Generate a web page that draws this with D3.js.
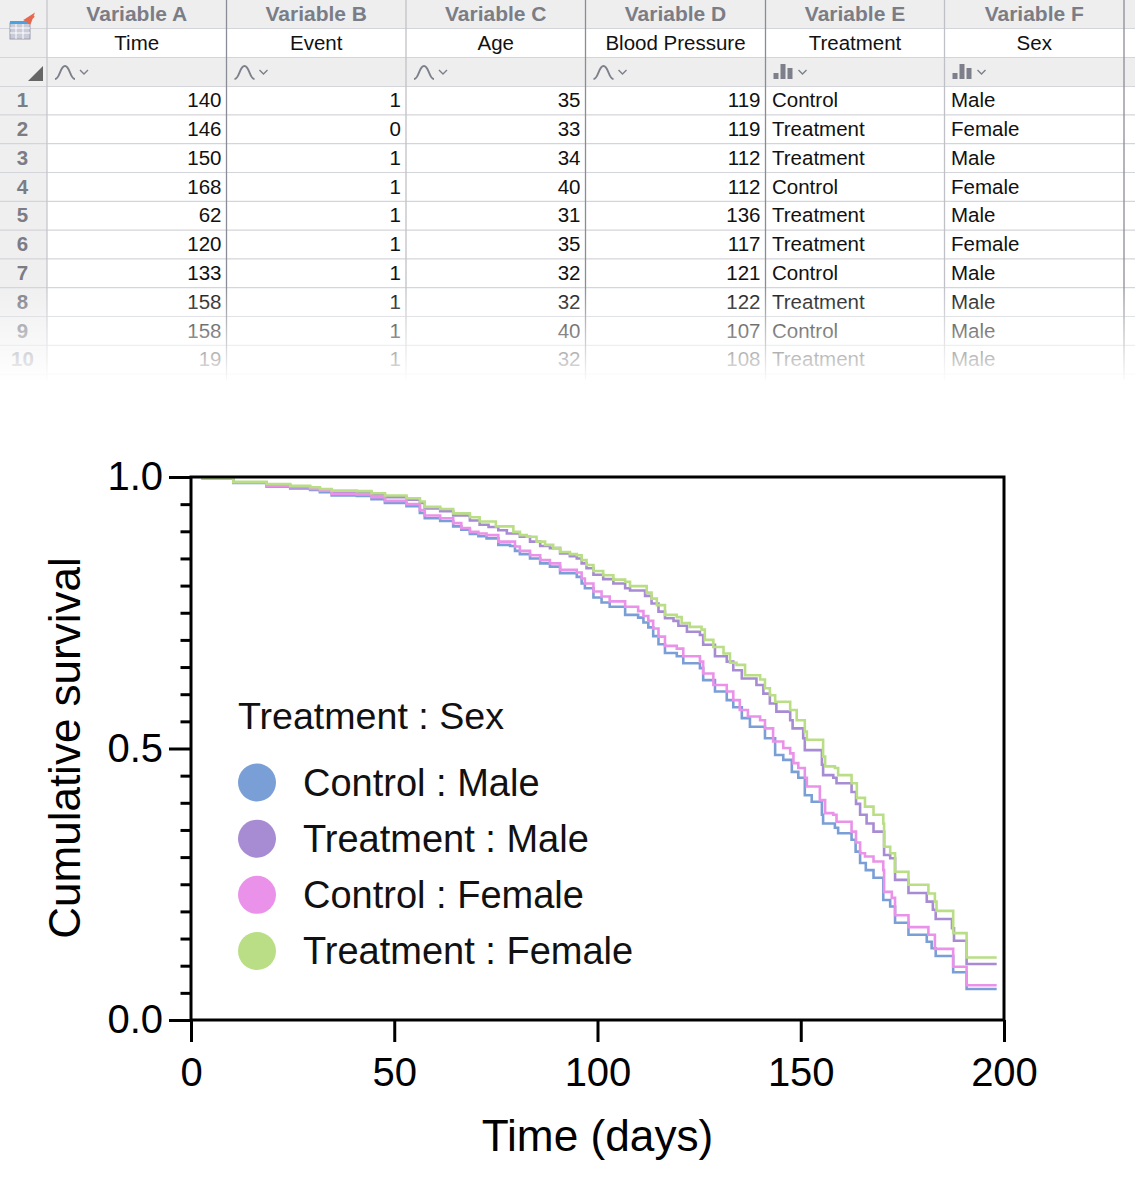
<!DOCTYPE html>
<html>
<head>
<meta charset="utf-8">
<style>
  html, body { margin: 0; padding: 0; background: #fff; }
  svg { display: block; }
  text { font-family: "Liberation Sans", Arial, sans-serif; }
</style>
<script src="https://cdn.jsdelivr.net/npm/d3@7"></script>
</head>
<body>
<div id="chart"></div>
<script>
// --- data table ---
const tableColumns = ["Variable A", "Variable B", "Variable C", "Variable D", "Variable E", "Variable F"];
const tableNames = ["Time", "Event", "Age", "Blood Pressure", "Treatment", "Sex"];
const tableTypes = ["num", "num", "num", "num", "cat", "cat"];
const timeCol = [140, 146, 150, 168, 62, 120, 133, 158, 158, 19];
const eventCol = [1, 0, 1, 1, 1, 1, 1, 1, 1, 1];
const ageCol = [35, 33, 34, 40, 31, 35, 32, 32, 40, 32];
const bpCol = [119, 119, 112, 112, 136, 117, 121, 122, 107, 108];
const treatmentCol = ["Control", "Treatment", "Treatment", "Control", "Treatment", "Treatment", "Control", "Treatment", "Control", "Treatment"];
const sexCol = ["Male", "Female", "Male", "Female", "Male", "Female", "Male", "Male", "Male", "Male"];

// --- survival curves, [day, survival] ---
const controlMale = [[2.6,.997],[10.4,.989],[18.6,.982],[24.4,.979],[29.3,.976],[31.7,.972],[34.6,.966],[40.8,.965],[44.4,.959],[47.7,.952],[53,.946],[56.3,.934],[57.5,.924],[61.3,.919],[64.5,.909],[66.5,.903],[68.6,.895],[70.7,.891],[72.7,.887],[75.6,.875],[78.5,.873],[79.7,.864],[80.9,.858],[83.4,.850],[85.9,.841],[88.3,.835],[90.8,.823],[94.9,.816],[96.1,.804],[96.9,.795],[99,.778],[101,.769],[103,.761],[106.8,.746],[110,.741],[111.3,.732],[112.5,.723],[113.7,.707],[115,.692],[116.6,.676],[119.5,.670],[121.1,.657],[125.2,.648],[126,.626],[128.9,.605],[131.8,.589],[133.4,.576],[135.5,.556],[137.5,.540],[141.2,.519],[143.7,.488],[145.7,.479],[147.8,.457],[149.4,.446],[151,.414],[152.7,.402],[155.2,.378],[155.5,.362],[158.4,.354],[159.2,.344],[162.5,.332],[163.5,.31],[164.6,.289],[166,.276],[167.9,.262],[170.3,.221],[172,.209],[173.2,.179],[176.5,.157],[181,.144],[182.2,.132],[183.2,.118],[187.5,.088],[190.8,.057],[198.2,.057]];
const treatmentMale = [[2.6,.998],[10.4,.990],[18.6,.985],[24.4,.982],[29.3,.979],[31.7,.976],[34.6,.973],[40.8,.972],[44.4,.968],[47.7,.963],[53,.958],[56.3,.952],[57.5,.942],[61.3,.937],[64.5,.929],[68.6,.920],[71,.912],[73.2,.908],[75.6,.902],[77.7,.896],[80.9,.890],[83.4,.881],[85.9,.873],[88.3,.869],[90.8,.859],[93.2,.854],[94.9,.850],[96.1,.841],[97.3,.832],[99,.820],[101.4,.812],[103.9,.804],[106.8,.795],[108,.791],[111.7,.781],[113.3,.767],[115,.752],[116.6,.740],[118.7,.735],[119.9,.726],[122,.715],[125.2,.709],[126,.691],[128.9,.670],[131.8,.660],[133.4,.644],[135.5,.629],[139.1,.617],[140.8,.601],[142.4,.583],[144,.568],[147.4,.552],[148,.537],[150.6,.519],[151,.497],[155.2,.470],[155.5,.451],[158,.446],[158.8,.436],[162.5,.420],[163.6,.398],[164.6,.378],[166.2,.362],[167.9,.347],[170.5,.304],[172,.298],[173.2,.258],[176.5,.234],[181,.218],[182.5,.203],[183.2,.186],[187.2,.169],[187.7,.146],[190.8,.103],[198.2,.103]];
const controlFemale = [[2.6,.998],[10.4,.990],[18.6,.983],[24.4,.981],[29.3,.978],[31.7,.975],[34.6,.969],[40.8,.968],[44.4,.963],[47.7,.956],[53,.950],[56.3,.939],[57.5,.929],[61.3,.924],[64.5,.915],[66.5,.906],[68.6,.899],[70.7,.896],[72.7,.893],[75.6,.881],[79.7,.872],[80.9,.864],[83.4,.856],[85.9,.847],[88.3,.841],[90.8,.829],[94.9,.824],[96.1,.813],[96.9,.804],[99,.789],[101,.780],[103,.771],[106.8,.761],[110,.753],[111.3,.744],[112.5,.735],[113.7,.721],[115,.706],[116.6,.689],[119.5,.684],[121.1,.670],[125.2,.660],[126,.638],[128.5,.617],[131.8,.605],[133.4,.589],[135,.571],[137,.559],[140,.552],[141.2,.537],[143.2,.513],[145.7,.501],[147.4,.491],[148.2,.473],[149.4,.464],[151,.446],[151.5,.43],[154.7,.405],[156,.381],[158,.378],[158.8,.365],[162.5,.347],[163.6,.327],[164.6,.307],[165.8,.301],[167.9,.292],[170.3,.276],[170.5,.236],[172.4,.225],[173.2,.193],[176.5,.171],[181.4,.157],[183,.131],[187.5,.098],[190.8,.064],[198.2,.064]];
const treatmentFemale = [[2.6,.998],[10.4,.991],[18.6,.987],[24.4,.984],[29.3,.981],[31.7,.978],[34.6,.975],[40.8,.974],[44.4,.970],[47.7,.966],[53,.961],[56.3,.955],[57.5,.945],[61.3,.941],[64.5,.933],[68.6,.926],[71,.918],[75,.909],[79.3,.899],[80.9,.893],[82.6,.890],[85,.881],[87.1,.875],[89.1,.869],[90.8,.862],[93.2,.858],[94.9,.856],[96.1,.847],[97.3,.838],[99,.827],[101.4,.819],[103.9,.811],[106.8,.807],[108,.799],[112.1,.787],[113.3,.776],[114.6,.764],[116.6,.746],[119.5,.742],[120.7,.731],[122.7,.724],[125.6,.719],[126.4,.700],[128.5,.687],[131,.675],[132.6,.658],[134.2,.654],[136.3,.635],[140,.627],[141.2,.611],[142.4,.598],[143.7,.586],[147.4,.571],[149,.552],[151,.531],[151.5,.516],[155.5,.485],[156,.467],[158.4,.464],[159.2,.451],[162.5,.436],[163.8,.409],[165.8,.393],[167.9,.378],[170.3,.362],[170.5,.319],[172,.307],[173.2,.273],[176.5,.249],[181.4,.233],[183,.218],[183.4,.201],[187.5,.160],[190.8,.115],[198.2,.115]];

const seriesNames = ["Control : Male", "Treatment : Male", "Control : Female", "Treatment : Female"];
const seriesColors = ["#7a9fd6", "#a78bd3", "#ea92e9", "#b9de85"];
const seriesValues = [controlMale, treatmentMale, controlFemale, treatmentFemale];
const legendTitle = "Treatment : Sex";
const xTicks = [0, 50, 100, 150, 200];
const yTicks = [0, 0.5, 1];
const yMinorTicks = [0.05, 0.1, 0.15, 0.2, 0.25, 0.3, 0.35, 0.4, 0.45, 0.55, 0.6, 0.65, 0.7, 0.75, 0.8, 0.85, 0.9, 0.95];

const width = 1135, height = 1200;
const svg = d3.select("#chart").append("svg").attr("width", width).attr("height", height);

drawTable();
drawChart();

function drawTable() {
    const g = svg.append("g");
    const colEdges = [47, 226.5, 406, 585.5, 765.5, 944.5, 1124];
    const rowH = 28.8, top = 85.6;
    const rows = d3.range(10);
    const rowY = i => top + i * rowH;
    const colsData = [timeCol, eventCol, ageCol, bpCol, treatmentCol, sexCol];

    // grey bands
    g.append("rect").attr("x", 0).attr("y", 0).attr("width", width).attr("height", 28).attr("fill", "#eeeeef");
    g.append("rect").attr("x", 0).attr("y", 57).attr("width", width).attr("height", 29).attr("fill", "#eeeeef");
    g.append("rect").attr("x", 0).attr("y", 0).attr("width", 47).attr("height", 380).attr("fill", "#efeff0");

    // row lines
    [28, 57, 86].concat(rows.map(i => rowY(i + 1))).forEach(y => {
        g.append("line").attr("x1", 0).attr("x2", width).attr("y1", y + 0.5).attr("y2", y + 0.5)
            .attr("stroke", "#d4d5da").attr("stroke-width", 1.2);
    });

    // column lines
    colEdges.forEach((x, i) => {
        g.append("line").attr("x1", x).attr("x2", x).attr("y1", 0).attr("y2", 380)
            .attr("stroke", i == 0 ? "#c6c7cd" : (i == 1 || i == 3 || i == 4 || i == 6) ? "#8b8d96" : "#c0c1c7")
            .attr("stroke-width", 1.3);
    });

    tableColumns.forEach((name, c) => {
        const mid = (colEdges[c] + colEdges[c + 1]) / 2;
        g.append("text").attr("x", mid).attr("y", 21).attr("text-anchor", "middle")
            .attr("font-size", 21).attr("font-weight", "bold").attr("fill", "#7b7d86").text(name);
        g.append("text").attr("x", mid).attr("y", 50).attr("text-anchor", "middle")
            .attr("font-size", 20.5).attr("fill", "#111").text(tableNames[c]);
        drawTypeIcon(g, colEdges[c] + 8, tableTypes[c]);

        const isNum = tableTypes[c] == "num";
        rows.forEach(r => {
            g.append("text")
                .attr("x", isNum ? colEdges[c + 1] - 5 : colEdges[c] + 6.5)
                .attr("y", rowY(r) + 21.5)
                .attr("text-anchor", isNum ? "end" : "start")
                .attr("font-size", 20.5).attr("fill", "#111").text(colsData[c][r]);
        });
    });

    rows.forEach(r => {
        g.append("text").attr("x", 22.5).attr("y", rowY(r) + 21.5).attr("text-anchor", "middle")
            .attr("font-size", 20.5).attr("font-weight", "bold").attr("fill", "#7b7d86").text(r + 1);
    });

    // corner icons
    g.append("path").attr("d", "M28 81 L43 81 L43 66 Z").attr("fill", "#666");
    g.append("rect").attr("x", 10).attr("y", 23).attr("width", 20).attr("height", 16).attr("fill", "#c9cbd8").attr("stroke", "#9a9cab");
    g.append("path").attr("d", "M10 28 H30 M10 33 H30 M16 23 V39 M23 23 V39").attr("stroke", "#fff").attr("fill", "none");
    g.append("rect").attr("x", 10).attr("y", 21).attr("width", 20).attr("height", 3).attr("fill", "#4aa3e0");
    g.append("path").attr("d", "M25 20 L33 15 L30 23 Z M28 22 L34 16").attr("fill", "#e8674f").attr("stroke", "#e8674f").attr("stroke-width", 2);

    // fade the last rows out
    const defs = svg.append("defs");
    const grad = defs.append("linearGradient").attr("id", "fade").attr("x1", 0).attr("x2", 0).attr("y1", 0).attr("y2", 1);
    grad.append("stop").attr("offset", "0%").attr("stop-color", "#fff").attr("stop-opacity", 0);
    grad.append("stop").attr("offset", "100%").attr("stop-color", "#fff").attr("stop-opacity", 0.95);
    g.append("rect").attr("x", 0).attr("y", 285).attr("width", width).attr("height", 95).attr("fill", "url(#fade)");
}

function drawTypeIcon(g, x, type) {
    const i = g.append("g").attr("transform", "translate(" + x + ",64)");
    if (type == "num") {
        i.append("path").attr("d", "M0 15 C5 15 5 2 10 2 C15 2 15 15 20 15")
            .attr("fill", "none").attr("stroke", "#7d808a").attr("stroke-width", 2);
        i.append("path").attr("d", "M25 6 L29 10 L33 6").attr("fill", "none").attr("stroke", "#7d808a").attr("stroke-width", 1.4);
    } else {
        i.append("path").attr("d", "M0 9 H5 V15 H0 Z M7 0 H12 V15 H7 Z M14 4 H19 V15 H14 Z").attr("fill", "#7d808a");
        i.append("path").attr("d", "M25 6 L29 10 L33 6").attr("fill", "none").attr("stroke", "#7d808a").attr("stroke-width", 1.4);
    }
}

function drawChart() {
    const x = d3.scaleLinear().domain([0, 200]).range([191, 1004]);
    const y = d3.scaleLinear().domain([0, 1]).range([1020, 477]);

    const xAxis = d3.axisBottom(x).tickValues(xTicks).tickSize(22).tickPadding(15.6).tickFormat(d3.format("d"));
    const yAxis = d3.axisLeft(y).tickValues(yTicks).tickSize(22).tickPadding(6).tickFormat(d3.format(".1f"));
    const yMinor = d3.axisLeft(y).tickValues(yMinorTicks).tickSize(10.5).tickFormat("");

    const gx = svg.append("g").attr("transform", "translate(0,1020)").call(xAxis);
    const gy = svg.append("g").attr("transform", "translate(191,0)").call(yAxis);
    const gm = svg.append("g").attr("transform", "translate(191,0)").call(yMinor);
    [gx, gy, gm].forEach(a => {
        a.select(".domain").remove();
        a.selectAll("line").attr("stroke", "#000").attr("stroke-width", 3);
        a.selectAll("text").attr("font-size", 40).attr("fill", "#000")
            .style("font-family", '"Liberation Sans", Arial, sans-serif');
    });

    const line = d3.line().x(d => x(d[0])).y(d => y(d[1])).curve(d3.curveStepAfter);
    seriesValues.forEach((vals, i) => {
        svg.append("path").datum(vals).attr("d", line)
            .attr("fill", "none").attr("stroke", seriesColors[i]).attr("stroke-width", 2.6);
    });

    svg.append("rect").attr("x", x(0)).attr("y", y(1))
        .attr("width", x(200) - x(0)).attr("height", y(0) - y(1))
        .attr("fill", "none").attr("stroke", "#000").attr("stroke-width", 3);

    svg.append("text").attr("x", 597.5).attr("y", 1151).attr("text-anchor", "middle")
        .attr("font-size", 44.2).attr("fill", "#000").text("Time (days)");
    svg.append("text").attr("transform", "translate(80,748) rotate(-90)").attr("text-anchor", "middle")
        .attr("font-size", 44).attr("fill", "#000").text("Cumulative survival");

    // legend
    svg.append("text").attr("x", 238).attr("y", 728.5).attr("font-size", 37.6).attr("fill", "#111").text(legendTitle);
    const legendY = d3.scalePoint().domain(seriesNames).range([782.5, 951]);
    seriesNames.forEach((name, i) => {
        svg.append("circle").attr("cx", 257).attr("cy", legendY(name)).attr("r", 19).attr("fill", seriesColors[i]);
        svg.append("text").attr("x", 303).attr("y", legendY(name) + 13).attr("font-size", 38)
            .attr("fill", "#111").text(name);
    });
}
</script>
</body>
</html>
